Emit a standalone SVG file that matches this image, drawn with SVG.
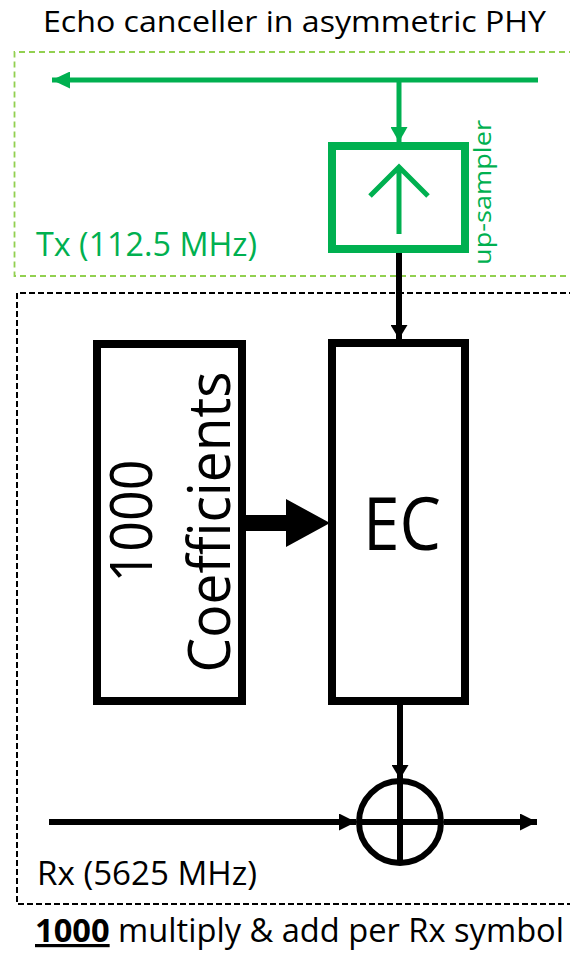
<svg xmlns="http://www.w3.org/2000/svg" width="570" height="957" viewBox="0 0 570 957">
  <style>
    text { font-family: "Open Sans", "Liberation Sans", sans-serif; }
    .green { fill: #00B050; }
    .black { fill: #000000; }
    .gline { stroke: #00B050; fill: none; }
    .bline { stroke: #000000; fill: none; }
  </style>
  <defs>
    <marker id="ahG" viewBox="0 0 18 17" refX="18" refY="8.5" markerWidth="18" markerHeight="17" markerUnits="userSpaceOnUse" orient="auto">
      <path d="M0,0 L18,8.5 L0,17 z" fill="#00B050"/>
    </marker>
    <marker id="ahGs" viewBox="0 0 15 17" refX="15" refY="8.5" markerWidth="15" markerHeight="17" markerUnits="userSpaceOnUse" orient="auto">
      <path d="M0,0 L15,8.5 L0,17 z" fill="#00B050"/>
    </marker>
    <marker id="ahB" viewBox="0 0 14 17" refX="14" refY="8.5" markerWidth="14" markerHeight="17" markerUnits="userSpaceOnUse" orient="auto">
      <path d="M0,0 L14,8.5 L0,17 z" fill="#000000"/>
    </marker>
    <marker id="ahBl" viewBox="0 0 17 17" refX="17" refY="8.5" markerWidth="17" markerHeight="17" markerUnits="userSpaceOnUse" orient="auto">
      <path d="M0,0 L17,8.5 L0,17 z" fill="#000000"/>
    </marker>
  </defs>

  <rect width="570" height="957" fill="#ffffff"/>

  <text id="title" x="43" y="32" font-size="29.5" textLength="503" lengthAdjust="spacingAndGlyphs" class="black">Echo canceller in asymmetric PHY</text>

  <g id="tx-region">
    <path d="M575,52 H14.5 V276 H575" fill="none" stroke="#92D050" stroke-width="1.8" stroke-dasharray="6,4"/>
    <text x="36" y="256" font-size="32" textLength="221" lengthAdjust="spacingAndGlyphs" class="green">Tx (112.5 MHz)</text>
  </g>

  <g id="rx-region">
    <path d="M575,293 H17 V904 H575" fill="none" stroke="#000000" stroke-width="2" stroke-dasharray="6,3"/>
    <text x="37" y="885" font-size="32" textLength="220" lengthAdjust="spacingAndGlyphs" class="black">Rx (5625 MHz)</text>
  </g>

  <g id="upsampler">
    <rect x="332" y="146" width="133" height="103" fill="#ffffff" stroke="#00B050" stroke-width="8"/>
    <path d="M399,234 V168 M370,196 L399,167 L428,196" class="gline" stroke-width="5"/>
    <text transform="translate(491,192.5) rotate(-90)" x="0" y="0" text-anchor="middle" font-size="24" textLength="145" lengthAdjust="spacingAndGlyphs" class="green">up-sampler</text>
  </g>

  <g id="coefficients">
    <rect x="97" y="344" width="145" height="357" fill="#ffffff" stroke="#000000" stroke-width="8"/>
    <text transform="translate(152,521) rotate(-90)" x="0" y="0" text-anchor="middle" font-size="58" textLength="123" lengthAdjust="spacingAndGlyphs" class="black">1000</text>
    <text transform="translate(230,522) rotate(-90)" x="0" y="0" text-anchor="middle" font-size="58" textLength="301" lengthAdjust="spacingAndGlyphs" class="black">Coefficients</text>
  </g>

  <g id="ec">
    <rect x="332" y="343" width="133" height="358" fill="#ffffff" stroke="#000000" stroke-width="8"/>
    <text x="363" y="550" font-size="73" textLength="78" lengthAdjust="spacingAndGlyphs" class="black">EC</text>
  </g>

  <g id="adder">
    <circle cx="400" cy="822" r="41" fill="none" stroke="#000000" stroke-width="6"/>
    <path d="M359,822 H441 M400,781 V863" class="bline" stroke-width="6"/>
  </g>

  <g id="connectors">
    <line x1="538" y1="80" x2="52" y2="80" class="gline" stroke-width="5" marker-end="url(#ahG)"/>
    <line x1="399" y1="80" x2="399" y2="142" class="gline" stroke-width="5" marker-end="url(#ahGs)"/>
    <line x1="399" y1="253" x2="399" y2="339" class="bline" stroke-width="6" marker-end="url(#ahB)"/>
    <path d="M246,515 H286 V499 L330,523 L286,547 V531 H246 z" fill="#000000"/>
    <line x1="400" y1="705" x2="400" y2="779" class="bline" stroke-width="6" marker-end="url(#ahB)"/>
    <line x1="49" y1="822" x2="356" y2="822" class="bline" stroke-width="6" marker-end="url(#ahBl)"/>
    <line x1="444" y1="822" x2="537" y2="822" class="bline" stroke-width="6" marker-end="url(#ahBl)"/>
  </g>

  <g id="caption">
    <text x="35" y="942" font-size="32" textLength="529" lengthAdjust="spacingAndGlyphs" class="black"><tspan font-weight="bold" text-decoration="underline">1000</tspan> multiply &amp; add per Rx symbol</text>
  </g>
</svg>
